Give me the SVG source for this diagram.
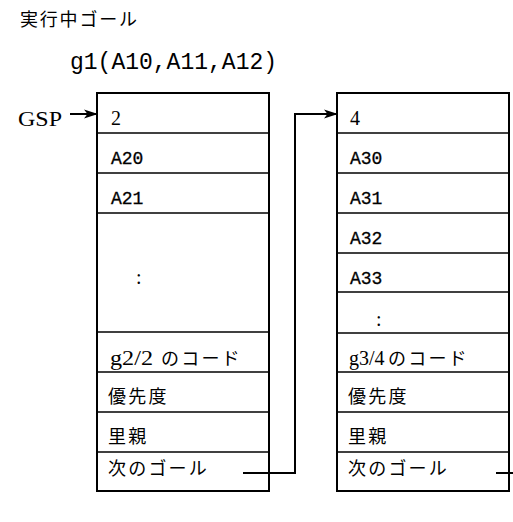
<svg xmlns="http://www.w3.org/2000/svg" width="513" height="522" viewBox="0 0 513 522">
<style>
.box{fill:none;stroke:#000;stroke-width:2}
.row{stroke:#000;stroke-width:1.6}
.mono{font-family:"Liberation Mono","DejaVu Sans Mono",monospace;font-size:18px;fill:#000;stroke:#000;stroke-width:0.3}
.serif{font-family:"Liberation Serif","Noto Sans CJK JP",serif;font-size:20px;fill:#000}
.jp{font-family:"Liberation Serif","Noto Sans CJK JP",serif;font-size:18px;letter-spacing:2.2px;fill:#000}
.conn{fill:none;stroke:#000;stroke-width:2}
</style>
<defs>
<marker id="arr" markerUnits="userSpaceOnUse" markerWidth="14" markerHeight="10" refX="13" refY="5" orient="auto">
<path d="M0,0.5 L14,5 L0,9.5 L3.5,5 z" fill="#000"/>
</marker>
</defs>
<rect width="513" height="522" fill="#fff"/>
<g id="title">
<text x="20" y="26" class="jp" style="font-size:18px;letter-spacing:1.8px">実行中ゴール</text>
<text x="70" y="69" class="mono" style="font-size:23px;stroke-width:0">g1(A10,A11,A12)</text>
</g>
<g id="gsp">
<text x="18" y="126" class="serif" style="font-size:21px" textLength="44" lengthAdjust="spacingAndGlyphs">GSP</text>
</g>
<g id="goal-g2">
<rect class="box" x="97" y="93" width="172" height="398"/>
<line class="row" x1="97" y1="133" x2="269" y2="133"/>
<line class="row" x1="97" y1="173" x2="269" y2="173"/>
<line class="row" x1="97" y1="213" x2="269" y2="213"/>
<line class="row" x1="97" y1="332" x2="269" y2="332"/>
<line class="row" x1="97" y1="372" x2="269" y2="372"/>
<line class="row" x1="97" y1="412" x2="269" y2="412"/>
<line class="row" x1="97" y1="452" x2="269" y2="452"/>
<text x="111" y="125" class="serif">2</text>
<text x="111" y="164" class="mono">A20</text>
<text x="111" y="204" class="mono">A21</text>
<text x="136" y="284" class="serif">:</text>
<text x="110" y="365" class="serif"><tspan textLength="43" lengthAdjust="spacingAndGlyphs">g2/2</tspan><tspan x="161" class="jp">のコード</tspan></text>
<text x="108" y="403" class="jp">優先度</text>
<text x="108" y="443" class="jp">里親</text>
<text x="108" y="475" class="jp">次のゴール</text>
</g>
<g id="goal-g3">
<rect class="box" x="337" y="93" width="172" height="398"/>
<line class="row" x1="337" y1="133" x2="509" y2="133"/>
<line class="row" x1="337" y1="173" x2="509" y2="173"/>
<line class="row" x1="337" y1="213" x2="509" y2="213"/>
<line class="row" x1="337" y1="253" x2="509" y2="253"/>
<line class="row" x1="337" y1="292" x2="509" y2="292"/>
<line class="row" x1="337" y1="333" x2="509" y2="333"/>
<line class="row" x1="337" y1="372" x2="509" y2="372"/>
<line class="row" x1="337" y1="412" x2="509" y2="412"/>
<line class="row" x1="337" y1="452" x2="509" y2="452"/>
<text x="350" y="125" class="serif">4</text>
<text x="350" y="164" class="mono">A30</text>
<text x="350" y="204" class="mono">A31</text>
<text x="350" y="244" class="mono">A32</text>
<text x="350" y="284" class="mono">A33</text>
<text x="376" y="326" class="serif">:</text>
<text x="349" y="365" class="serif">g3/4<tspan x="388" class="jp">のコード</tspan></text>
<text x="348" y="403" class="jp">優先度</text>
<text x="348" y="443" class="jp">里親</text>
<text x="348" y="475" class="jp">次のゴール</text>
</g>
<g id="connectors">
<line class="conn" x1="70" y1="114" x2="97" y2="114" marker-end="url(#arr)"/>
<polyline class="conn" points="243,473 295,473 295,114 337,114" marker-end="url(#arr)"/>
<line class="conn" x1="496" y1="473" x2="513" y2="473"/>
</g>
</svg>
